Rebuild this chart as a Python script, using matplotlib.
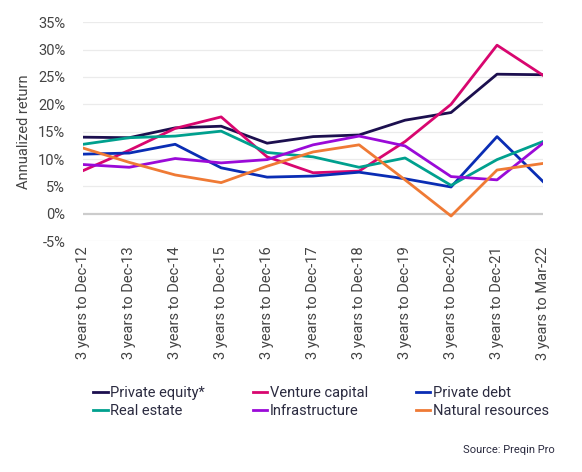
import matplotlib
matplotlib.use("Agg")
from matplotlib import pyplot as plt

plt.rcParams['font.family'] = ['Roboto', 'DejaVu Sans']

categories = ["3 years to Dec-12", "3 years to Dec-13", "3 years to Dec-14",
              "3 years to Dec-15", "3 years to Dec-16", "3 years to Dec-17",
              "3 years to Dec-18", "3 years to Dec-19", "3 years to Dec-20",
              "3 years to Dec-21", "3 years to Mar-22"]

private_equity = [14.0, 13.9, 15.7, 16.0, 12.9, 14.1, 14.4, 17.1, 18.5, 25.5, 25.4]
venture_capital = [7.9, 11.6, 15.6, 17.7, 10.4, 7.5, 7.8, 13.2, 20.0, 30.8, 25.3]
private_debt = [10.9, 11.1, 12.7, 8.4, 6.7, 6.9, 7.6, 6.4, 4.9, 14.1, 5.9]
real_estate = [12.7, 13.9, 14.2, 15.1, 11.2, 10.4, 8.5, 10.2, 5.2, 9.9, 13.2]
infrastructure = [9.0, 8.5, 10.1, 9.3, 9.9, 12.6, 14.2, 12.4, 6.8, 6.2, 12.9]
natural_resources = [12.0, 9.4, 7.1, 5.7, 8.7, 11.3, 12.6, 6.2, -0.4, 8.0, 9.2]

series = [
    ("Private equity*", private_equity, "#1c0f4f"),
    ("Venture capital", venture_capital, "#d8066f"),
    ("Private debt", private_debt, "#0a2db4"),
    ("Real estate", real_estate, "#00a08e"),
    ("Infrastructure", infrastructure, "#9a0ad8"),
    ("Natural resources", natural_resources, "#ef7a35"),
]

fig = plt.figure(figsize=(5.82, 4.72), dpi=100)
ax = fig.add_axes([0.143, 0.489, 0.79, 0.464])

x = list(range(len(categories)))
lines = []
for name, vals, col in series:
    ln, = ax.plot(x, vals, color=col, lw=2, label=name, zorder=3)
    lines.append(ln)

ax.set_xlim(0, len(categories) - 1)
ax.set_ylim(-5, 35)
ax.set_yticks(range(-5, 40, 5))
ax.set_yticklabels([f"{v}%" for v in range(-5, 40, 5)])
ax.set_xticks(x)
ax.set_xticklabels(categories, rotation=90)

for v in range(-5, 40, 5):
    if v == 0:
        ax.axhline(v, color="#cccccc", lw=1.6, zorder=1)
    else:
        ax.axhline(v, color="#ebebeb", lw=0.9, zorder=1)

for s in ax.spines.values():
    s.set_visible(False)
ax.tick_params(axis='both', length=0, labelsize=10.5, labelcolor="#444444")
ax.tick_params(axis='y', pad=13)
ax.tick_params(axis='x', pad=4)

ax.set_ylabel("Annualized return", fontsize=10.5, color="#444444", labelpad=5)

# legend filled row by row, like the original
order = [0, 3, 1, 4, 2, 5]
fig.legend([lines[i] for i in order], [series[i][0] for i in order],
           loc="upper left", bbox_to_anchor=(0.15, 0.195), ncol=3,
           frameon=False, fontsize=10.5, handlelength=1.0, handletextpad=0.15,
           columnspacing=3.3, labelspacing=0.3, borderaxespad=0,
           labelcolor="#2b2b40")

fig.text(0.953, 0.035, "Source: Preqin Pro", ha="right", va="bottom",
         fontsize=8, color="#2b2b40")

plt.savefig("out.png", dpi=100)
